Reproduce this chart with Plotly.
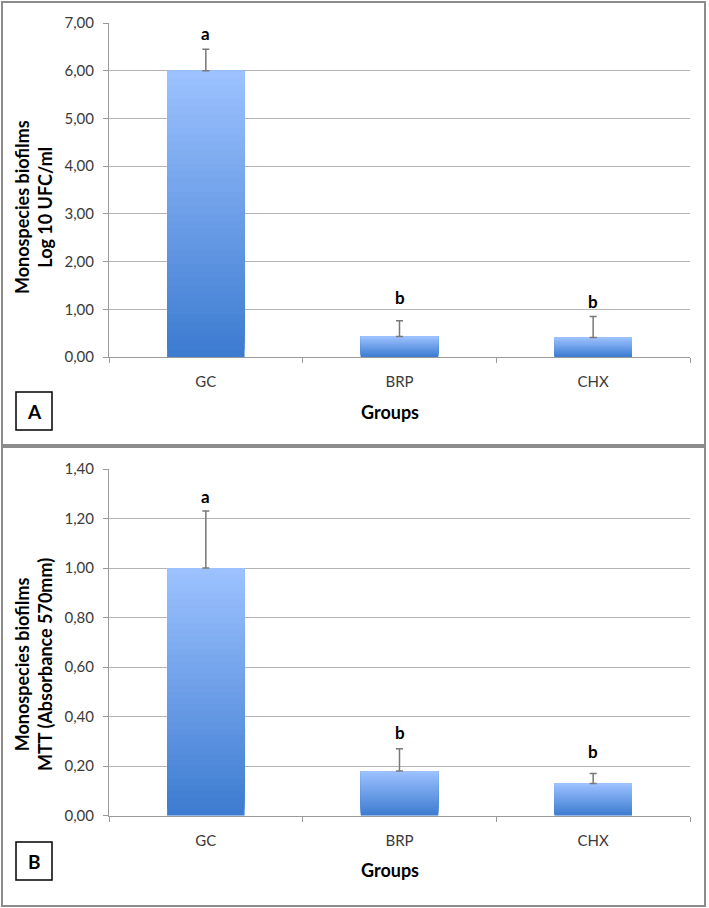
import plotly.graph_objects as go

# ---------------- data ----------------
groups = ["GC", "BRP", "CHX"]

# Panel A: Log10 UFC/ml
values_a = [6.00, 0.43, 0.41]
errors_a = [0.45, 0.33, 0.44]
letters_a = ["a", "b", "b"]
letter_y_a = [6.77, 1.24, 1.17]
ticks_a = [0, 1, 2, 3, 4, 5, 6, 7]

# Panel B: MTT absorbance
values_b = [1.00, 0.18, 0.13]
errors_b = [0.23, 0.09, 0.04]
letters_b = ["a", "b", "b"]
letter_y_b = [1.287, 0.338, 0.258]
ticks_b = [0, 0.2, 0.4, 0.6, 0.8, 1.0, 1.2, 1.4]

W, H = 709, 908
FONT = "Lato"
TOP_C = (157, 194, 255)
BOT_C = (60, 123, 208)
N_GRAD = 40


def mix(t):
    r = [round(BOT_C[i] + (TOP_C[i] - BOT_C[i]) * t) for i in range(3)]
    return f"rgb({r[0]},{r[1]},{r[2]})"


fig = go.Figure()


def add_panel(vals, errs, xa, ya):
    # gradient bars: overlaid bars, each starting higher with lighter colour
    for k in range(N_GRAD):
        f = k / N_GRAD
        fig.add_trace(go.Bar(
            x=groups, y=[v * (1 - f) for v in vals], base=[v * f for v in vals],
            width=0.4, marker=dict(color=mix(f + 0.5 / N_GRAD), line=dict(width=0)),
            xaxis=xa, yaxis=ya, showlegend=False, hoverinfo="skip"))
    # transparent bar carrying the error bars, drawn on top
    fig.add_trace(go.Bar(
        x=groups, y=vals, width=0.4,
        marker=dict(color="rgba(0,0,0,0)", line=dict(width=0)),
        error_y=dict(type="data", symmetric=False, array=errs,
                     arrayminus=[0] * len(errs), color="#787878",
                     thickness=1.5, width=3.5),
        xaxis=xa, yaxis=ya, showlegend=False))


add_panel(values_a, errors_a, "x", "y")
add_panel(values_b, errors_b, "x2", "y2")


def px_x(p):
    return p / W


def px_y(p):
    return 1 - p / H


x_dom = [px_x(109), px_x(690)]
ya_dom = [px_y(357), px_y(23)]
yb_dom = [px_y(815.7), px_y(469)]

axis_common = dict(
    showline=True, linecolor="#9a9a9a", linewidth=1, automargin=False,
    ticks="outside", ticklen=5, tickcolor="#9a9a9a",
    tickfont=dict(family=FONT, size=15, color="#3a3a3a"),
)

fig.update_layout(
    width=W, height=H, margin=dict(l=0, r=0, t=0, b=0, pad=0, autoexpand=False),
    paper_bgcolor="white", plot_bgcolor="white",
    barmode="overlay", separators=", ",
    xaxis=dict(domain=x_dom, anchor="y", tickson="boundaries", showgrid=False,
               ticklabelstandoff=11, **axis_common),
    yaxis=dict(domain=ya_dom, anchor="x", range=[0, 7], tickvals=ticks_a, tickformat=".2f",
               showgrid=True, gridcolor="#b4b4b4", gridwidth=1, zeroline=False,
               ticklabelstandoff=6, **axis_common),
    xaxis2=dict(domain=x_dom, anchor="y2", tickson="boundaries", showgrid=False,
                ticklabelstandoff=11, **axis_common),
    yaxis2=dict(domain=yb_dom, anchor="x2", range=[0, 1.4], tickvals=ticks_b, tickformat=".2f",
                showgrid=True, gridcolor="#b4b4b4", gridwidth=1, zeroline=False,
                ticklabelstandoff=6, **axis_common),
)

LET_FONT = dict(family=FONT, size=17, color="black")
annos = []
for g, t, yy in zip(groups, letters_a, letter_y_a):
    annos.append(dict(x=g, y=yy, xref="x", yref="y", text=f"<b>{t}</b>", showarrow=False,
                      xanchor="center", yanchor="middle", font=LET_FONT))
for g, t, yy in zip(groups, letters_b, letter_y_b):
    annos.append(dict(x=g, y=yy, xref="x2", yref="y2", text=f"<b>{t}</b>", showarrow=False,
                      xanchor="center", yanchor="middle", font=LET_FONT))

TITLE_FONT = dict(family=FONT, size=18, color="black")


def paper_text(px, py, text, font, angle=0):
    return dict(x=px_x(px), y=px_y(py), xref="paper", yref="paper", text=text,
                textangle=angle, showarrow=False, xanchor="center", yanchor="middle",
                font=font)


annos += [
    paper_text(33, 207, "<b>Monospecies biofilms</b><br><b>Log 10 UFC/ml</b>", TITLE_FONT, -90),
    paper_text(33, 665, "<b>Monospecies biofilms</b><br><b>MTT (Absorbance 570mm)</b>", TITLE_FONT, -90),
    paper_text(390, 412, "<b>Groups</b>", dict(family=FONT, size=18, color="black")),
    paper_text(390, 870, "<b>Groups</b>", dict(family=FONT, size=18, color="black")),
    paper_text(34, 411, "<b>A</b>", dict(family=FONT, size=19, color="black")),
    paper_text(34, 861, "<b>B</b>", dict(family=FONT, size=19, color="black")),
]
fig.update_layout(annotations=annos)

shapes = [
    dict(type="rect", xref="paper", yref="paper", x0=px_x(2), x1=px_x(705), y0=px_y(445), y1=px_y(2),
         line=dict(color="#8c8c8c", width=2)),
    dict(type="rect", xref="paper", yref="paper", x0=px_x(2), x1=px_x(705), y0=px_y(906), y1=px_y(447),
         line=dict(color="#8c8c8c", width=2)),
    dict(type="rect", xref="paper", yref="paper", x0=px_x(16), x1=px_x(52), y0=px_y(430), y1=px_y(392),
         line=dict(color="black", width=1.5)),
    dict(type="rect", xref="paper", yref="paper", x0=px_x(16), x1=px_x(52), y0=px_y(880), y1=px_y(842),
         line=dict(color="black", width=1.5)),
]
fig.update_layout(shapes=shapes)

fig.write_html("out.html", config={"displayModeBar": False},
               post_script="document.body.style.margin='0';document.body.style.overflow='hidden';")
